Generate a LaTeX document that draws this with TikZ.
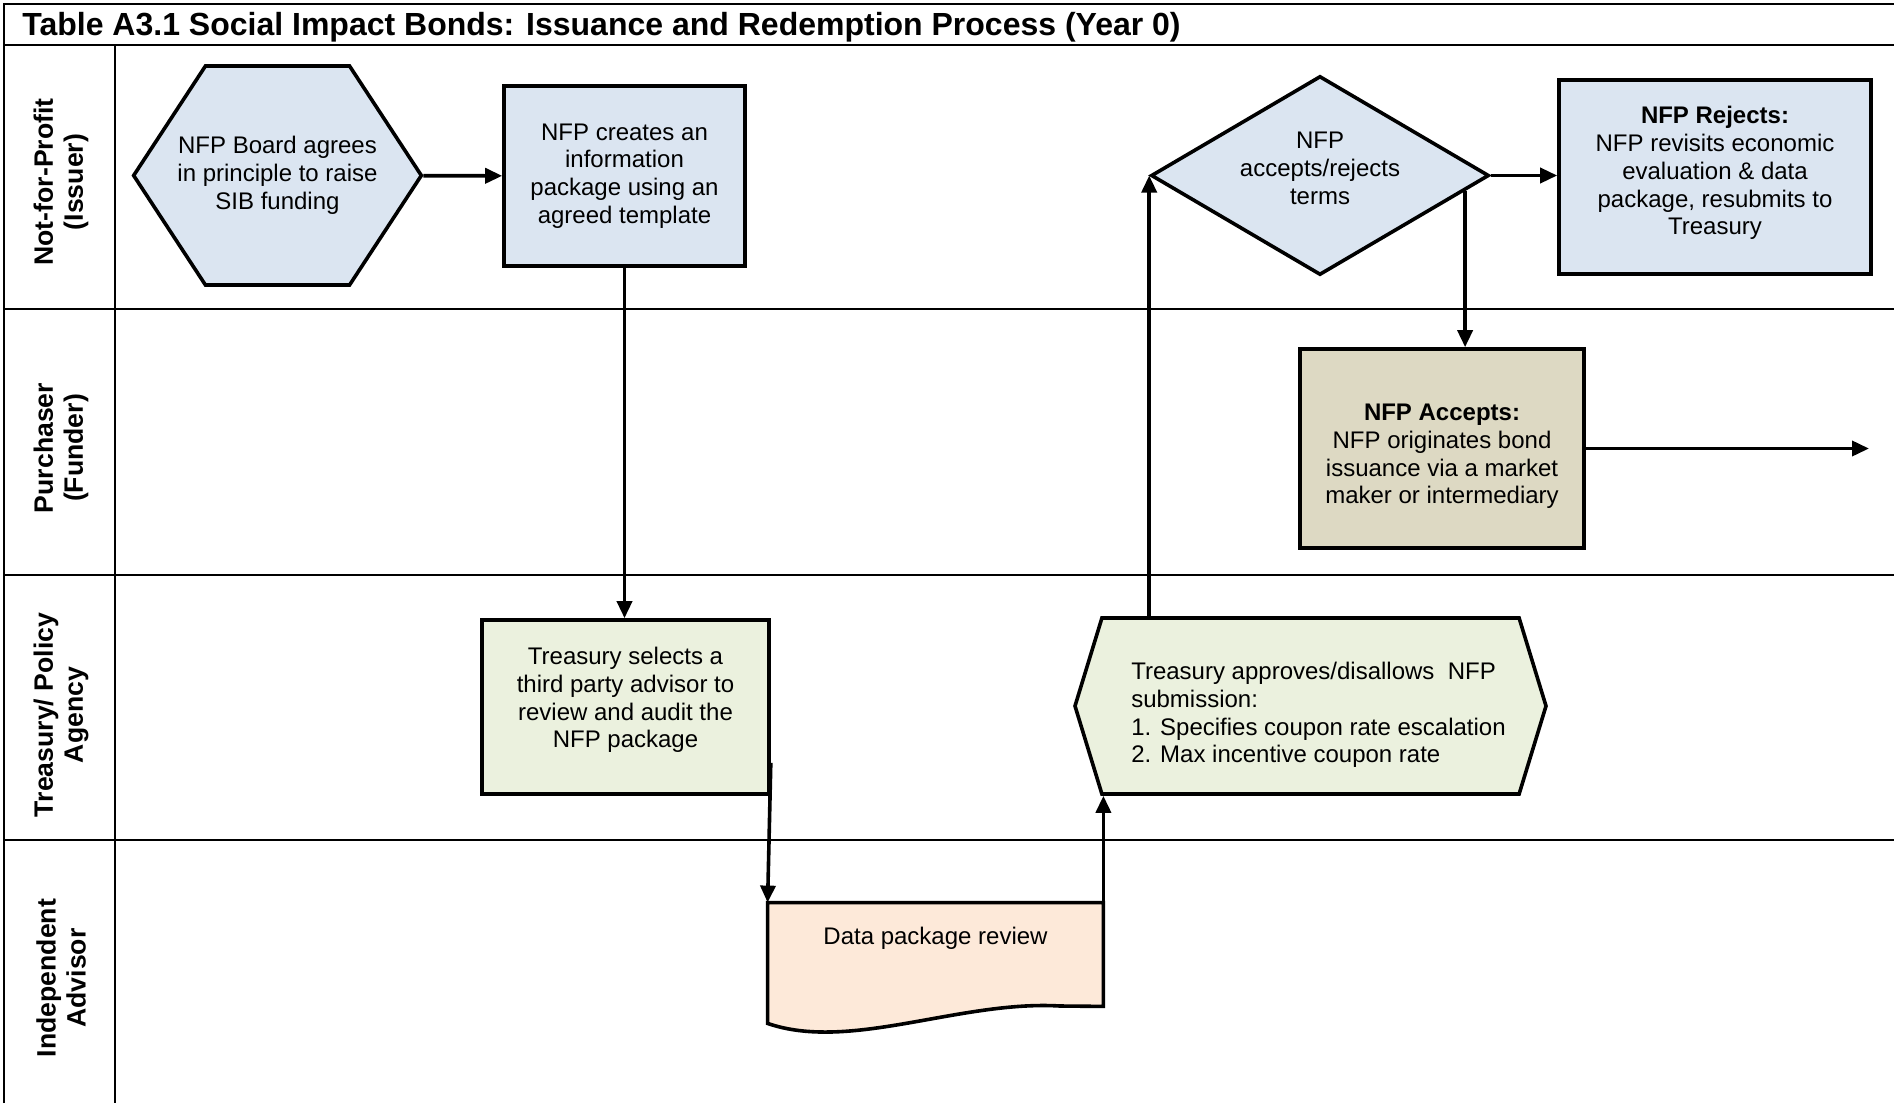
\documentclass[tikz,border=0pt]{standalone}
\usepackage{fontspec}
\setmainfont{Liberation Sans}
\usetikzlibrary{shapes.geometric, shapes.symbols, arrows.meta, calc}

\definecolor{nfpblue}{HTML}{DBE5F1}
\definecolor{fundtan}{HTML}{DDD9C3}
\definecolor{treasgreen}{HTML}{EBF1DE}
\definecolor{advpeach}{HTML}{FDE9D9}

\begin{document}
\begin{tikzpicture}[x=0.5pt, y=-0.5pt,
        every node/.style={font=\fontsize{12}{13.9}\selectfont, align=center, inner sep=0pt},
        procbox/.style={rectangle, draw, line width=1.8pt},
        hexbox/.style={signal, signal to=west and east, draw, line width=1.8pt},
        lanelabel/.style={rotate=90, font=\fontsize{13.3}{15}\selectfont\bfseries},
        flow/.style={line width=1.8pt, -{Triangle[length=8.5pt,width=7.5pt]}},
        rule/.style={line width=1pt}]
        \useasboundingbox (0,0) rectangle (1894,1103);

        % table frame and swim lanes
        \draw[rule] (4,1103) -- (4,4) -- (1894,4);
        \draw[rule] (4,45) -- (1894,45);
        \draw[rule] (115,45) -- (115,1103);
        \foreach \y in {309,575,840}
            \draw[rule] (4,\y) -- (1894,\y);

        \node[anchor=base west, font=\fontsize{16}{18}\selectfont\bfseries] (title) at (22,35)
            {Table A3.1 Social Impact Bonds: Issuance and Redemption Process (Year 0)};

        \node[lanelabel] (issuer) at (61,182) {Not-for-Profit\\(Issuer)};
        \node[lanelabel] (funder) at (61,448) {Purchaser\\(Funder)};
        \node[lanelabel] (agency) at (61,715) {Treasury/ Policy\\Agency};
        \node[lanelabel] (advisor) at (61,978) {Independent\\Advisor};

        % steps
        \node[hexbox, fill=nfpblue, signal pointer angle=113.5, inner xsep=-14pt,
            minimum height=109.5pt] (board) at (277.5,175.5)
            {NFP Board agrees\\in principle to raise\\SIB funding};
        \node[procbox, fill=nfpblue, minimum width=120.5pt, minimum height=90pt] (info)
            at (624.5,176) {NFP creates an\\information\\package using an\\agreed template};
        \node[diamond, draw, line width=1.8pt, fill=nfpblue, minimum width=169pt,
            minimum height=99.5pt, label={[yshift=3.5pt]center:{NFP\\accepts/rejects\\terms}}]
            (decide) at (1320,175.5) {};
        \node[procbox, fill=nfpblue, minimum width=156pt, minimum height=97pt,
            label={[yshift=2pt]center:{\textbf{NFP Rejects:}\\NFP revisits economic\\evaluation \& data\\package, resubmits to\\Treasury}}]
            (rejects) at (1715,177) {};
        \node[procbox, fill=fundtan, minimum width=142pt, minimum height=99.5pt,
            label={[yshift=-4pt]center:{\textbf{NFP Accepts:}\\NFP originates bond\\issuance via a market\\maker or intermediary}}]
            (accepts) at (1442,448.5) {};
        \node[procbox, fill=treasgreen, minimum width=143.5pt, minimum height=87pt,
            label={[yshift=3.5pt]center:{Treasury selects a\\third party advisor to\\review and audit the\\NFP package}}]
            (selects) at (625.5,707) {};
        \node[hexbox, fill=treasgreen, signal pointer angle=146, minimum width=235.5pt,
            minimum height=88pt, label={[align=left, xshift=4pt, yshift=-4.5pt]center:{Treasury approves/disallows~~NFP\\submission:\\1. Specifies coupon rate escalation\\2. Max incentive coupon rate}}]
            (approves) at (1310.5,706) {};
        \node[minimum width=167.5pt, minimum height=35pt] (review) at (935.5,938) {};
        \draw[line width=1.8pt, fill=advpeach] (review.north west) -- ($(review.south west)+(0,50)$)
            .. controls (850,1052) and (960,1000) .. (1060,1006) -- ($(review.south east)+(0,33)$)
            -- (review.north east) -- cycle;
        \node (reviewtext) at (review) {Data package review};
        \coordinate (onward) at (1869,448.5);

        \draw[flow] (board) -- (info);
        \draw[flow] (info.south) -- (info.south |- selects.north);
        \draw[flow] ($(selects.south east)+(0,-33)$) -- (review.north west);
        \draw[flow] (review.north east) -- (review.north east |- approves.south);
        \draw[flow] (decide.west |- approves.north) -- (decide.west);
        \draw[flow] (decide.east) -- (decide.east -| rejects.west);
        \draw[flow] (decide.-6) -- (decide.-6 |- accepts.north);
        \draw[flow] (accepts.east) -- (onward);
    \end{tikzpicture}
\end{document}
